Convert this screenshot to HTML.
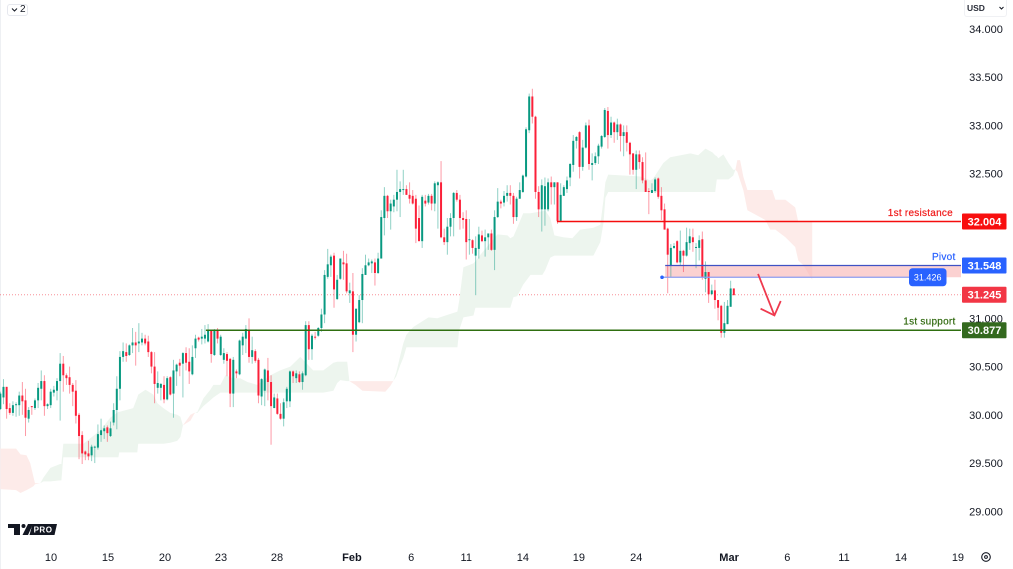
<!DOCTYPE html>
<html lang="en">
<head>
<meta charset="utf-8">
<title>Price chart</title>
<style>
html,body{margin:0;padding:0;background:#fff;}
#chart{position:relative;width:1013px;height:569px;overflow:hidden;background:#fff;font-family:"Liberation Sans",sans-serif;}
#chart svg{position:absolute;left:0;top:0;}
#plot{filter:blur(.25px);}
.btn{position:absolute;box-sizing:border-box;background:#fff;color:#131722;}
</style>
</head>
<body>
<div id="chart">
<svg id="plot" width="1013" height="569" viewBox="0 0 1013 569"></svg>
<div class="btn" style="left:7px;top:4px;width:21px;height:12px;border:1px solid #e6e8ee;border-radius:3px;">
<svg width="19" height="10" viewBox="0 0 19 10"><path d="M4 3.5 L6.5 6 L9 3.5" fill="none" stroke="#131722" stroke-width="1"/></svg>
<span style="position:absolute;left:12px;top:-1px;font-size:10px;line-height:12px;">2</span>
</div>
<div class="btn" style="left:964px;top:0;width:43px;height:17px;border:1px solid #f0f1f4;border-top:none;border-radius:0 0 3px 3px;">
<span style="position:absolute;left:2px;top:3px;font-size:8.5px;line-height:10px;font-weight:bold;color:#2a2e39;">USD</span>
<svg width="41" height="16" viewBox="0 0 41 16"><path d="M34.5 7 L36.5 9 L38.5 7" fill="none" stroke="#131722" stroke-width="1"/></svg>
</div>
<svg width="60" height="16" viewBox="0 0 60 16" style="left:4px;top:522px;">
<polygon points="4,2 16,2 16,13 10,13 10,6 4,6" fill="#131722"/>
<circle cx="19.5" cy="4" r="2" fill="#131722"/>
<polygon points="24,2 29,2 24,13 18.5,13" fill="#131722"/>
<polygon points="28.5,2 53,2 50.5,13 25.5,13" fill="#131722"/>
<text x="39" y="10.6" font-size="8" font-weight="bold" fill="#fff" text-anchor="middle" letter-spacing=".5" font-family="Liberation Sans, sans-serif">PRO</text>
</svg>
<svg width="14" height="14" viewBox="0 0 14 14" style="left:979px;top:550px;">
<circle cx="7" cy="7" r="4.3" fill="none" stroke="#131722" stroke-width="1.1"/>
<circle cx="7" cy="7" r="1.4" fill="none" stroke="#131722" stroke-width="1"/>
</svg>
</div>
<script>
// Candle values (price)
const opens = [30.06,30.18,30.29,30.07,30.02,30.10,30.10,30.20,30.15,29.96,
30.09,30.07,30.15,30.27,30.35,30.09,30.10,30.23,30.25,30.35,
30.53,30.41,30.39,30.31,30.25,30.00,29.79,29.62,29.60,29.58,
29.66,29.66,29.79,29.83,29.87,29.78,29.92,30.05,30.27,30.60,
30.65,30.62,30.72,30.75,30.74,30.75,30.79,30.76,30.65,30.50,
30.28,30.28,30.31,30.16,30.39,30.22,30.45,30.54,30.53,30.64,
30.55,30.42,30.69,30.80,30.79,30.79,30.76,30.87,30.62,30.88,
30.62,30.57,30.63,30.58,30.22,30.45,30.42,30.72,30.79,30.88,
30.60,30.66,30.57,30.19,30.25,30.46,30.34,30.07,30.17,30.01,
29.96,30.14,30.14,30.45,30.38,30.42,30.34,30.41,30.93,30.68,
30.81,30.82,30.90,31.04,31.43,31.55,31.65,31.20,31.41,31.58,
31.57,31.26,31.28,30.83,30.96,31.19,31.45,31.55,31.57,31.58,
31.47,31.62,32.04,32.27,32.11,32.16,32.23,32.31,32.33,32.34,
32.28,32.27,32.24,32.04,31.80,32.22,32.20,32.27,32.19,32.38,
32.41,31.84,31.79,31.95,32.04,32.30,32.23,32.04,32.03,31.81,
31.81,31.65,31.72,31.86,31.80,31.84,31.88,31.71,32.05,32.21,
32.20,32.27,32.30,32.27,32.05,32.24,32.31,32.47,32.95,33.30,
33.09,32.31,32.13,32.13,32.13,32.41,32.36,32.41,32.01,32.27,
32.34,32.46,32.59,32.84,32.93,32.57,32.77,33.00,32.59,32.61,
32.68,32.78,32.88,33.15,32.90,33.03,32.93,33.01,32.89,32.93,
32.82,32.71,32.54,32.70,32.62,32.43,32.32,32.30,32.32,32.45,
32.27,32.13,31.93,31.55,31.73,31.80,31.58,31.70,31.65,31.78,
31.84,31.73,31.73,31.82,31.41,31.48,31.25,31.29,31.19,31.13,
30.85,30.94,31.12,31.31];
const highs = [30.24,30.37,30.29,30.12,30.14,30.13,30.24,30.34,30.27,30.08,
30.09,30.17,30.33,30.46,30.41,30.12,30.27,30.30,30.38,30.64,
30.61,30.43,30.50,30.33,30.36,30.02,29.83,29.63,29.73,29.69,
29.68,29.90,29.96,29.89,29.89,29.93,30.12,30.40,30.66,30.75,
30.74,30.73,30.90,30.86,30.95,30.85,30.83,30.82,30.66,30.65,
30.45,30.33,30.40,30.40,30.40,30.57,30.53,30.58,30.65,30.70,
30.69,30.72,30.83,30.81,30.89,30.93,30.94,30.88,30.89,30.90,
30.83,30.69,30.65,30.59,30.60,30.47,30.78,30.85,30.93,31.00,
30.81,30.68,30.59,30.38,30.48,30.59,30.41,30.22,30.22,30.12,
30.17,30.29,30.46,30.46,30.46,30.45,30.45,30.97,30.97,30.84,
30.86,30.91,31.10,31.50,31.72,31.66,31.68,31.45,31.62,31.70,
31.67,31.37,31.47,31.10,31.24,31.52,31.66,31.62,31.61,31.62,
31.68,32.12,32.36,32.28,32.23,32.28,32.54,32.42,32.54,32.38,
32.41,32.33,32.28,32.17,32.28,32.28,32.29,32.29,32.42,32.42,
32.63,31.93,32.04,32.09,32.31,32.33,32.28,32.10,32.12,32.03,
31.82,31.85,31.95,31.91,31.92,31.88,31.92,32.12,32.35,32.23,
32.32,32.38,32.38,32.30,32.26,32.41,32.49,32.98,33.33,33.38,
33.10,32.37,32.44,32.46,32.45,32.47,32.41,32.41,32.40,32.38,
32.47,32.61,32.90,32.89,32.94,32.85,33.03,33.06,32.71,32.72,
32.81,32.90,33.18,33.19,33.09,33.04,33.07,33.02,33.00,33.00,
32.83,32.71,32.74,32.74,32.67,32.72,32.35,32.40,32.46,32.46,
32.36,32.19,31.94,31.77,31.78,31.81,31.91,31.71,31.94,31.93,
31.93,31.78,31.86,31.90,31.59,31.48,31.35,31.40,31.19,31.14,
31.17,31.19,31.39,31.31];
const lows = [30.05,30.11,29.96,30.00,29.99,29.98,29.99,30.00,29.78,29.92,
30.00,30.05,30.07,30.15,29.99,30.06,30.07,30.19,30.15,29.94,
30.24,30.31,30.22,30.09,29.91,29.54,29.49,29.53,29.53,29.52,
29.50,29.64,29.72,29.75,29.72,29.77,29.89,29.85,30.15,30.55,
30.55,30.61,30.64,30.51,30.65,30.72,30.72,30.60,30.43,30.12,
30.22,30.15,30.12,30.15,30.20,29.97,30.30,30.40,30.18,30.46,
30.32,30.41,30.59,30.76,30.73,30.74,30.75,30.54,30.61,30.74,
30.61,30.53,30.40,30.08,30.08,30.38,30.41,30.62,30.64,30.54,
30.53,30.54,30.12,30.10,30.09,30.15,29.69,30.07,30.00,29.95,
29.88,30.07,30.08,30.33,30.33,30.33,30.26,30.40,30.57,30.57,
30.78,30.81,30.86,30.95,31.41,31.43,31.11,31.19,31.40,31.40,
31.26,31.16,30.65,30.76,30.95,30.95,31.45,31.54,31.47,31.34,
31.46,31.62,31.86,32.04,31.92,32.10,32.11,32.05,32.28,32.28,
32.19,32.18,31.78,31.80,31.73,32.16,32.18,32.12,32.11,31.93,
31.83,31.76,31.66,31.85,31.85,32.21,31.92,31.93,31.61,31.66,
31.67,31.24,31.62,31.79,31.64,31.71,31.70,31.50,32.04,32.14,
32.16,32.21,32.18,31.98,32.01,32.24,32.30,32.46,32.92,33.02,
32.24,32.05,31.90,31.96,32.11,32.18,32.18,31.98,32.00,32.27,
32.30,32.37,32.52,32.76,32.45,32.53,32.76,32.54,32.43,32.59,
32.60,32.76,32.87,32.76,32.87,32.82,32.85,32.73,32.68,32.73,
32.49,32.49,32.34,32.55,32.40,32.31,32.08,32.30,32.30,32.24,
32.02,31.92,31.26,31.43,31.72,31.57,31.55,31.48,31.64,31.71,
31.69,31.52,31.60,31.40,31.27,31.16,31.25,31.10,30.98,30.80,
30.80,30.94,31.12,31.24];
const closes = [30.22,30.29,30.06,30.02,30.10,30.11,30.20,30.14,29.97,30.05,
30.08,30.15,30.28,30.35,30.09,30.11,30.24,30.26,30.35,30.53,
30.41,30.38,30.31,30.24,29.99,29.78,29.60,29.59,29.57,29.67,
29.67,29.80,29.84,29.86,29.81,29.86,30.05,30.27,30.60,30.66,
30.61,30.72,30.75,30.72,30.76,30.79,30.74,30.65,30.50,30.32,
30.33,30.32,30.16,30.38,30.21,30.46,30.52,30.51,30.64,30.54,
30.45,30.60,30.79,30.78,30.81,30.83,30.88,30.63,30.88,30.79,
30.81,30.64,30.56,30.22,30.57,30.43,30.77,30.81,30.89,30.60,
30.67,30.56,30.20,30.37,30.47,30.34,30.09,30.18,30.01,29.96,
30.13,30.27,30.45,30.40,30.43,30.34,30.43,30.93,30.68,30.82,
30.80,30.90,31.04,31.45,31.56,31.64,31.30,31.40,31.62,31.56,
31.28,31.29,30.83,31.10,31.19,31.46,31.55,31.58,31.59,31.47,
31.62,32.05,32.27,32.11,32.19,32.23,32.31,32.34,32.34,32.28,
32.24,32.19,31.93,31.80,32.26,32.19,32.27,32.19,32.40,32.41,
31.84,31.79,31.95,32.04,32.30,32.23,32.04,32.02,31.79,31.82,
31.73,31.73,31.87,31.80,31.84,31.88,31.71,32.05,32.21,32.19,
32.27,32.30,32.27,32.05,32.24,32.33,32.48,32.96,33.30,33.09,
32.31,32.13,32.38,32.37,32.41,32.36,32.41,32.01,32.28,32.36,
32.43,32.60,32.84,32.88,32.57,32.77,33.00,32.60,32.61,32.68,
32.79,32.89,33.16,32.90,33.03,32.93,33.01,32.89,32.93,32.82,
32.70,32.54,32.70,32.62,32.43,32.31,32.31,32.33,32.44,32.26,
32.12,31.92,31.66,31.73,31.75,31.58,31.70,31.65,31.79,31.85,
31.79,31.74,31.81,31.43,31.48,31.25,31.29,31.19,31.11,30.85,
30.95,31.13,31.31,31.24];

// Ichimoku cloud: bar position, leading span A and leading span B (price)
const cloudBars = [0,5,6.4,8.3,9.5,10.5,11,12.7,13.7,15.9,19,19.4,20,26.4,31.8,34.9,37.5,37.8,42.2,43.5,43.8,46.1,48.6,49.9,51.8,54,56.2,57.2,58,60.4,61.6,61.9,62.6,64.5,66.7,67.7,69.9,71.5,74,76.2,78.5,81.6,85.8,88.9,92.1,95.3,99.4,102.6,105.8,107,108,110.2,110.9,112.8,115,122.3,123.9,124.8,125.8,127.1,128,129,131.2,136,138.8,141.4,145.2,145.8,147.1,150.3,150.9,152.5,157.9,161.1,162,163,164.2,166.1,168.4,172.2,173.1,174.7,176,178.8,181.7,184.2,188.4,190.6,191.6,192.2,193.1,203.3,206.5,207.4,210.6,212.8,219.2,221.7,224,226.2,227.1,227.6,228.1,229.7,231.3,232.8,233.5,234.1,235,236,237.3,243,244.6,245.2,246.2,249.4,252.5,253.5,255.1,257.9];
const spanA = [29.23,29.22,29.19,29.22,29.24,29.26,29.28,29.29,29.35,29.45,29.49,29.49,29.70,29.70,29.84,29.97,30.03,30.03,30.07,30.18,30.21,30.26,30.21,30.12,30.07,30.02,30.00,29.98,29.89,29.94,30.01,30.02,30.03,30.17,30.26,30.31,30.31,30.41,30.38,30.38,30.34,30.31,30.41,30.46,30.50,30.60,30.46,30.46,30.54,30.55,30.55,30.55,30.35,30.31,30.25,30.24,30.30,30.35,30.44,30.62,30.74,30.83,30.91,31.01,31.00,31.03,31.07,31.19,31.53,31.57,31.59,31.66,31.87,31.86,31.83,31.85,31.94,32.09,32.09,32.11,32.12,32.04,31.86,31.84,31.83,31.92,31.94,31.97,32.23,32.41,32.49,32.47,32.43,32.45,32.61,32.67,32.71,32.69,32.76,32.72,32.69,32.68,32.66,32.70,32.61,32.54,32.54,32.52,32.43,32.33,32.12,32.02,31.92,31.92,31.92,31.84,31.74,31.60,31.55,31.40];
const spanB = [29.65,29.65,29.59,29.58,29.50,29.36,29.29,29.29,29.31,29.31,29.32,29.32,29.56,29.56,29.56,29.56,29.56,29.61,29.61,29.61,29.70,29.70,29.70,29.70,29.70,29.71,29.73,29.77,29.89,30.00,30.02,30.02,30.02,30.09,30.15,30.18,30.23,30.23,30.23,30.23,30.23,30.23,30.23,30.23,30.23,30.23,30.23,30.23,30.25,30.33,30.36,30.35,30.35,30.35,30.35,30.35,30.35,30.35,30.40,30.52,30.59,30.70,30.70,30.70,30.70,30.70,30.70,30.88,31.01,31.03,31.11,31.11,31.11,31.11,31.11,31.22,31.23,31.35,31.45,31.45,31.50,31.63,31.65,31.65,31.65,31.65,31.65,31.79,31.99,32.25,32.31,32.31,32.31,32.31,32.31,32.31,32.31,32.31,32.31,32.31,32.31,32.44,32.44,32.44,32.44,32.48,32.54,32.64,32.64,32.47,32.33,32.33,32.33,32.33,32.23,32.23,32.15,32.00,32.00,32.00];

// Axis ticks
const priceTicks = [34,33.5,33,32.5,31,30.5,30,29.5,29];
const timeTickLabels = ["10","15","20","23","28","Feb","6","11","14","19","24","Mar","6","11","14","19"];
const timeTickBars = [16.1,34.2,52.3,70.1,87.9,111.7,130.5,148,166,183.8,202,231.5,250,268,286.1,304.2];
const boldTimeTicks = ["Feb","Mar"];

// Annotations (price levels, start bar)
const lastPrice = 31.245;
const resistancePrice = 32.004;
const resistanceStartBar = 176.8;
const supportPrice = 30.877;
const supportStartBar = 65.3;
const pivotPrice = 31.548;
const pivotLowPrice = 31.426;
const pivotStartBar = 211.2;
const arrowBars = [240.7,245.9];
const arrowPrices = [31.46,31.03];
const arrowHeadBars = [241.5,247.9];
const arrowHeadPrices = [31.10,31.18];

const NS = "http://www.w3.org/2000/svg";
const plot = document.getElementById("plot");
const xScale = i => 0.33 + i * 3.148;
const yScale = p => 28.94 + (34 - p) * 96.47;
const PLOT_RIGHT = 961;
const FONT = "Liberation Sans, sans-serif";

function el(tag, attrs, parent) {
  const e = document.createElementNS(NS, tag);
  for (const k in attrs) e.setAttribute(k, attrs[k]);
  (parent || plot).appendChild(e);
  return e;
}
function txt(str, attrs, parent) {
  const e = el("text", Object.assign({"font-family": FONT}, attrs), parent);
  e.textContent = str;
  return e;
}

// Left edge
const edge = el("rect", {x:0, y:0, width:1, height:569, fill:"#eef0f3"});



// Last price dotted line
const lastLine = el("line", {x1:0, x2:PLOT_RIGHT, y1:yScale(lastPrice), y2:yScale(lastPrice), stroke:"#f23645", "stroke-width":1, "stroke-dasharray":"1 2", opacity:.55});



// Ichimoku cloud: consecutive same-sign stretches become one polygon
const cloudGroup = el("g", {});


let runStart = 0;
function flushRun(a, b) {
  if (b <= a) return;
  let mid = 0;
  for (let k = a; k <= b; k++) mid += spanA[k] - spanB[k];
  const pts = [];
  for (let k = a; k <= b; k++) pts.push(xScale(cloudBars[k]).toFixed(1) + "," + yScale(spanA[k]).toFixed(1));
  for (let k = b; k >= a; k--) pts.push(xScale(cloudBars[k]).toFixed(1) + "," + yScale(spanB[k]).toFixed(1));
  const poly = el("polygon", {points: pts.join(" "), fill: mid >= 0 ? "#edf5ee" : "#fdebe9"}, cloudGroup);
  
  
}
for (let k = 1; k < cloudBars.length; k++) {
  if (spanA[k] === spanB[k]) { flushRun(runStart, k); runStart = k; }
}
flushRun(runStart, cloudBars.length - 1);

// Pivot zone (under candles)
const zone = el("rect", {x:xScale(pivotStartBar), y:yScale(pivotPrice), width:PLOT_RIGHT - xScale(pivotStartBar), height:yScale(pivotLowPrice) - yScale(pivotPrice), fill:"#f9b4b4", opacity:.62});



// Candles
const candleGroup = el("g", {});


opens.forEach((o, i) => {
  const c = closes[i];
  const col = c >= o ? "#089981" : "#fb2039";
  const g = el("g", {}, candleGroup);
  
  
  const x = xScale(i);
  const wick = el("rect", {x:x - .5, y:yScale(highs[i]), width:1, height:Math.max(.5, yScale(lows[i]) - yScale(highs[i])), fill:col, opacity:.45}, g);
  
  
  const top = yScale(Math.max(o, c));
  const bot = yScale(Math.min(o, c));
  const body = el("rect", {x:x - 1, y:top, width:2, height:Math.max(1, bot - top), fill:col}, g);
  
  
});

// Horizontal levels
const resLine = el("line", {x1:xScale(resistanceStartBar), x2:PLOT_RIGHT, y1:yScale(resistancePrice), y2:yScale(resistancePrice), stroke:"#f50d0d", "stroke-width":1.5});


const supLine = el("line", {x1:xScale(supportStartBar), x2:PLOT_RIGHT, y1:yScale(supportPrice), y2:yScale(supportPrice), stroke:"#2f6f10", "stroke-width":1.5});


const pivLine = el("line", {x1:xScale(pivotStartBar), x2:PLOT_RIGHT, y1:yScale(pivotPrice), y2:yScale(pivotPrice), stroke:"#3f52c4", "stroke-width":1.3});


const pivLow = el("line", {x1:xScale(pivotStartBar - 1), x2:912, y1:yScale(pivotLowPrice), y2:yScale(pivotLowPrice), stroke:"#8d9cf0", "stroke-width":1.3});


const pivDot = el("circle", {cx:xScale(pivotStartBar - 1), cy:yScale(pivotLowPrice), r:1.8, fill:"#2962ff"});



// Pivot range pill
const pill = el("rect", {x:909, y:yScale(pivotLowPrice) - 9, width:37.5, height:18, rx:3.5, fill:"#2962ff"});


const pillText = txt(pivotLowPrice.toFixed(3), {x:927.7, y:yScale(pivotLowPrice) + 3.2, "font-size":9, fill:"#fff", "text-anchor":"middle"});



// Arrow
const arrowShaft = el("line", {x1:xScale(arrowBars[0]), y1:yScale(arrowPrices[0]), x2:xScale(arrowBars[1]), y2:yScale(arrowPrices[1]), stroke:"#ef3a4e", "stroke-width":1.8});


const arrowHead = el("polyline", {points: xScale(arrowHeadBars[0]) + "," + yScale(arrowHeadPrices[0]) + " " + xScale(arrowBars[1]) + "," + yScale(arrowPrices[1]) + " " + xScale(arrowHeadBars[1]) + "," + yScale(arrowHeadPrices[1]), fill:"none", stroke:"#ef3a4e", "stroke-width":1.8});



// Level captions
const resCap = txt("1st resistance", {x:953, y:yScale(resistancePrice) - 5.6, "font-size":10, "text-anchor":"end", fill:"#f01a1a", stroke:"#f01a1a", "stroke-width":.2, "letter-spacing":".25"});


const pivCap = txt("Pivot", {x:955.5, y:yScale(pivotPrice) - 5.6, "font-size":10, "text-anchor":"end", fill:"#2962ff", stroke:"#2962ff", "stroke-width":.2, "letter-spacing":".25"});


const supCap = txt("1st support", {x:955.5, y:yScale(supportPrice) - 5.6, "font-size":10, "text-anchor":"end", fill:"#336b12", stroke:"#336b12", "stroke-width":.2, "letter-spacing":".25"});



// Price axis ticks
priceTicks.forEach(p => {
  const t = txt(p.toFixed(3), {x:986, y:yScale(p) + 4, "font-size":11, "text-anchor":"middle", fill:"#131722"});
  
  
});

// Price axis badges
function badge(price, color, name) {
  const y = yScale(price);
  const g = el("g", {});
  
  
  el("rect", {x:962, y:y - 8, width:44.5, height:16, rx:1, fill:color}, g);
  txt(price.toFixed(3), {x:984.5, y:y + 4, "font-size":11, "font-weight":"bold", "text-anchor":"middle", fill:"#fff"}, g);
}
badge(resistancePrice, "#f80f0f", "resistance-price-badge");
badge(pivotPrice, "#2962ff", "pivot-price-badge");
badge(lastPrice, "#f23645", "last-price-badge");
badge(supportPrice, "#33691e", "support-price-badge");

// Time axis ticks
timeTickLabels.forEach((label, k) => {
  const attrs = {x:xScale(timeTickBars[k]), y:561, "font-size":11, "text-anchor":"middle", fill:"#131722"};
  if (boldTimeTicks.includes(label)) attrs["font-weight"] = "bold";
  const t = txt(label, attrs);
  
  
});
</script>
</body>
</html>
